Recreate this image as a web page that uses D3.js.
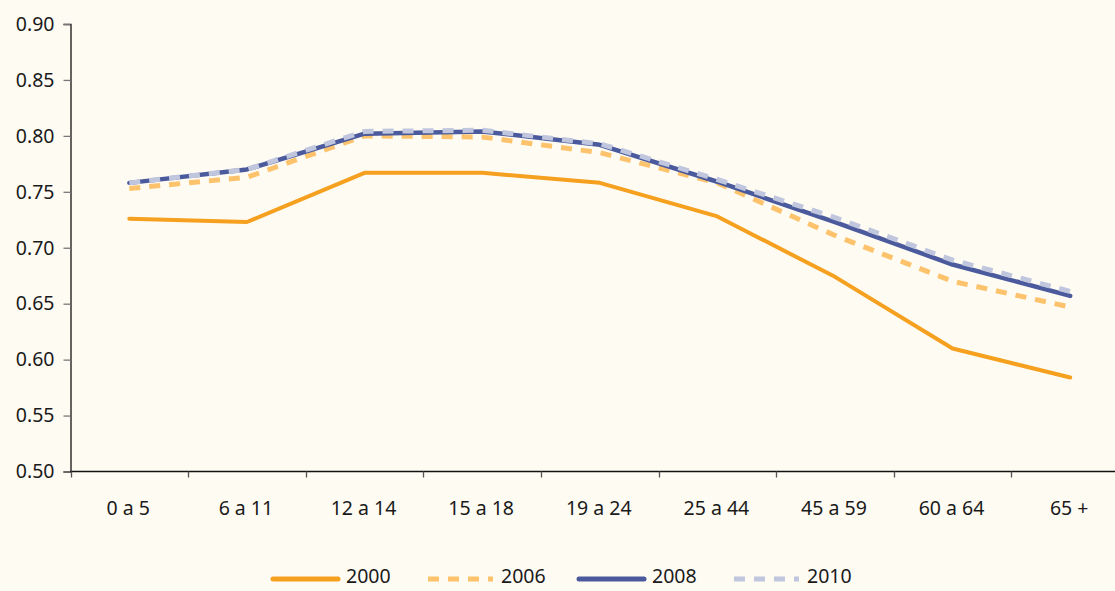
<!DOCTYPE html>
<html>
<head>
<meta charset="utf-8">
<script src="https://cdn.jsdelivr.net/npm/d3@7"></script>
<style>
  html, body { margin: 0; padding: 0; background: #fefbf3; overflow: hidden; }
  svg { display: block; }
  text { font-family: "Noto Sans", "Open Sans", sans-serif; fill: #1a1a1a; }
</style>
</head>
<body>
<div id="content"></div>
<script>
// age groups and series values
var categories = ["0 a 5", "6 a 11", "12 a 14", "15 a 18", "19 a 24", "25 a 44", "45 a 59", "60 a 64", "65 +"];
var yTicks = [0.50, 0.55, 0.60, 0.65, 0.70, 0.75, 0.80, 0.85, 0.90];
var s2000 = [0.726, 0.723, 0.767, 0.767, 0.758, 0.728, 0.674, 0.610, 0.584];
var s2006 = [0.753, 0.763, 0.800, 0.799, 0.785, 0.758, 0.711, 0.670, 0.647];
var s2008 = [0.758, 0.770, 0.802, 0.804, 0.792, 0.759, 0.723, 0.685, 0.657];
var s2010 = [0.758, 0.770, 0.804, 0.805, 0.793, 0.761, 0.727, 0.689, 0.661];
var seriesNames = ["2000", "2006", "2008", "2010"];

var series = [
  {name: seriesNames[0], values: s2000, color: "#f5a01e", dash: null, w: 4},
  {name: seriesNames[1], values: s2006, color: "#fcc36c", dash: "11,9", w: 5},
  {name: seriesNames[2], values: s2008, color: "#4a5a9c", dash: null, w: 4.5},
  {name: seriesNames[3], values: s2010, color: "#c0c6dd", dash: "11,9", w: 5}
];

var width = 1115, height = 591;
var fontSize = "19.5px";

var svg = d3.select("#content")
  .append("svg")
    .attr("width", width)
    .attr("height", height);

// x: bands, the last one runs past the picture edge like the original
var x = d3.scaleBand()
    .domain(categories)
    .range([70.5, 1129]);

var y = d3.scaleLinear()
    .domain([0.5, 0.9])
    .range([471.5, 24]);

// y axis
var yAxis = svg.append("g")
    .attr("transform", "translate(70.5,0)")
    .call(d3.axisLeft(y).tickValues(yTicks).tickFormat(d3.format(".2f")).tickSize(7).tickPadding(9));
yAxis.select(".domain").attr("stroke", "#111").attr("stroke-width", 1.3);
yAxis.selectAll(".tick line").attr("stroke", "#777").attr("stroke-width", 1.3);
yAxis.selectAll("text").style("font-size", fontSize).attr("fill", "#1a1a1a");

// x axis: ticks at band edges, labels at band centres
var xAxis = svg.append("g")
    .attr("transform", "translate(0," + y(0.5) + ")");
xAxis.append("line")
    .attr("x1", 70.5).attr("x2", width)
    .attr("stroke", "#111").attr("stroke-width", 1.3);
xAxis.selectAll(".xt")
  .data(categories)
  .enter()
  .append("line")
    .attr("class", "xt")
    .attr("x1", function(d) { return Math.round(x(d)) + 0.5; })
    .attr("x2", function(d) { return Math.round(x(d)) + 0.5; })
    .attr("y1", 0).attr("y2", 6)
    .attr("stroke", "#555").attr("stroke-width", 1.3);
xAxis.selectAll(".xl")
  .data(categories)
  .enter()
  .append("text")
    .attr("class", "xl")
    .attr("x", function(d) { return x(d) + x.bandwidth() / 2 - 1; })
    .attr("y", 43)
    .attr("text-anchor", "middle")
    .style("font-size", fontSize)
    .text(function(d) { return d; });

// lines
var line = d3.line()
    .x(function(d, i) { return x(categories[i]) + x.bandwidth() / 2; })
    .y(function(d) { return y(d); });

svg.selectAll(".series")
  .data(series)
  .enter()
  .append("path")
    .attr("class", "series")
    .attr("d", function(s) { return line(s.values); })
    .attr("fill", "none")
    .attr("stroke", function(s) { return s.color; })
    .attr("stroke-width", function(s) { return s.w; })
    .attr("stroke-dasharray", function(s) { return s.dash; })
    .attr("stroke-linecap", function(s) { return s.dash ? "butt" : "round"; })
    .attr("stroke-linejoin", "round");

// legend at the bottom
var legendX = [273, 428, 579, 734];
var legend = svg.selectAll(".legend")
  .data(series)
  .enter()
  .append("g")
    .attr("class", "legend")
    .attr("transform", function(s, i) { return "translate(" + legendX[i] + ",579)"; });
legend.append("line")
    .attr("x1", 0).attr("x2", 65)
    .attr("stroke", function(s) { return s.color; })
    .attr("stroke-width", 5)
    .attr("stroke-dasharray", function(s) { return s.dash; })
    .attr("stroke-linecap", function(s) { return s.dash ? "butt" : "round"; });
legend.append("text")
    .attr("x", 73)
    .attr("y", 4)
    .style("font-size", fontSize)
    .text(function(s) { return s.name; });
</script>
</body>
</html>
